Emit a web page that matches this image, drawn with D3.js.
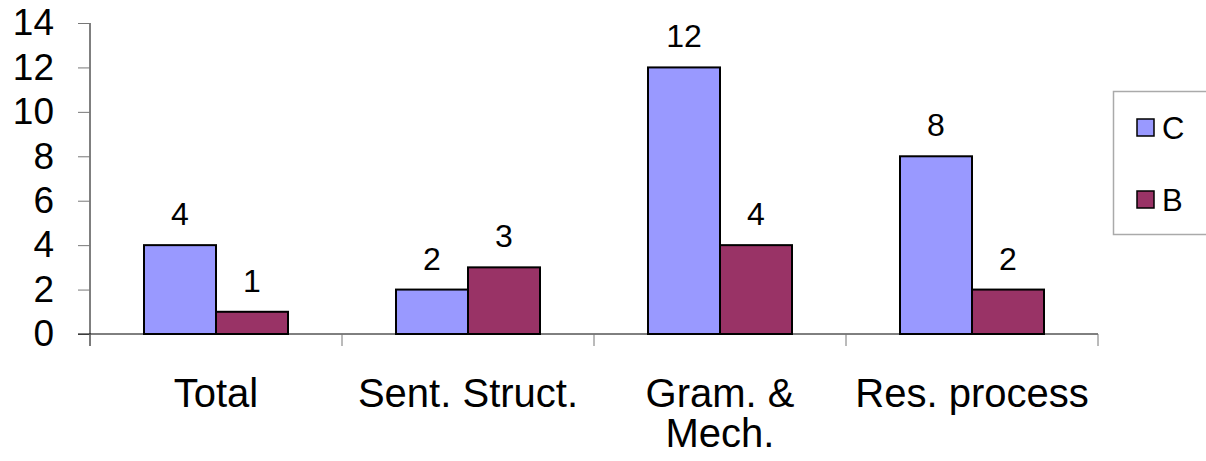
<!DOCTYPE html>
<html>
<head>
<meta charset="utf-8">
<script src="https://cdn.jsdelivr.net/npm/d3@7"></script>
<style>
  html, body { margin: 0; padding: 0; background: #fff; }
  svg { display: block; font-family: "Liberation Sans", Arial, sans-serif; }
</style>
</head>
<body>
<svg id="chart" width="1206" height="461"></svg>
<script>
// Category names (each entry is a list of label lines)
const categories = ["Total", "Sent. Struct.", "Gram. & Mech.", "Res. process"];
const categoryLines = [["Total"], ["Sent. Struct."], ["Gram. &", "Mech."], ["Res. process"]];
const seriesNames = ["C", "B"];
const valuesC = [4, 2, 12, 8];
const valuesB = [1, 3, 4, 2];
const yTicks = [0, 2, 4, 6, 8, 10, 12, 14];
const seriesColors = ["#9999FF", "#993366"];

const svg = d3.select("#chart");
const plotLeft = 90, plotRight = 1098, plotTop = 23, plotBottom = 334;

const x = d3.scaleBand().domain(categories).range([plotLeft, plotRight]).paddingInner(0).paddingOuter(0);
const bw = x.bandwidth();
const barW = bw / 3.5;               // gap width 150%
const x1 = d3.scaleBand().domain(seriesNames).range([barW * 0.75, bw - barW * 0.75]);
const y = d3.scaleLinear().domain([0, 14]).range([plotBottom, plotTop]);
const color = d3.scaleOrdinal().domain(seriesNames).range(seriesColors);

const rows = categories.map((c, i) => ({ cat: c, vals: [
  { s: "C", v: valuesC[i] }, { s: "B", v: valuesB[i] }
]}));

// Y axis
const yAxis = svg.append("g")
  .attr("transform", `translate(${plotLeft},0)`)
  .call(d3.axisLeft(y).tickValues(yTicks).tickSize(12).tickSizeOuter(0).tickPadding(24));
yAxis.select(".domain").attr("stroke", "#000").attr("d", `M0,${plotTop}V${plotBottom + 12}`);
yAxis.selectAll(".tick line").attr("stroke", "#777");
yAxis.selectAll(".tick text").attr("font-size", 37).attr("fill", "#000")
  .attr("font-family", "'Liberation Sans', Arial, sans-serif");

// Bars
const groups = svg.append("g").selectAll("g").data(rows).join("g")
  .attr("transform", d => `translate(${x(d.cat)},0)`);
groups.selectAll("rect").data(d => d.vals).join("rect")
  .attr("x", d => x1(d.s))
  .attr("y", d => y(d.v))
  .attr("width", x1.bandwidth())
  .attr("height", d => y(0) - y(d.v))
  .attr("fill", d => color(d.s))
  .attr("stroke", "#000")
  .attr("stroke-width", 2);
groups.selectAll("text").data(d => d.vals).join("text")
  .attr("x", d => x1(d.s) + x1.bandwidth() / 2)
  .attr("y", d => y(d.v) - 20)
  .attr("text-anchor", "middle")
  .attr("font-size", 32)
  .attr("fill", "#000")
  .text(d => d.v);

// X axis line and category boundary ticks
const xAxis = svg.append("g")
  .attr("transform", `translate(0,${plotBottom})`)
  .call(d3.axisBottom(x).tickSize(0).tickSizeOuter(0).tickFormat(""));
xAxis.select(".domain").attr("stroke", "#000").attr("d", `M${plotLeft - 12},0H${plotRight}`);
const bounds = categories.map(c => x(c)).concat([x(categories[categories.length - 1]) + bw]);
svg.append("g").selectAll("line").data(bounds).join("line")
  .attr("x1", d => d).attr("x2", d => d)
  .attr("y1", plotBottom).attr("y2", plotBottom + 12)
  .attr("stroke", "#777");

// Category labels
svg.append("g").selectAll("text").data(categories).join("text")
  .attr("x", (c) => x(c) + bw / 2)
  .attr("y", 407)
  .attr("text-anchor", "middle")
  .attr("font-size", 40)
  .attr("fill", "#000")
  .each(function(c, i) {
    d3.select(this).selectAll("tspan").data(categoryLines[i]).join("tspan")
      .attr("x", x(c) + bw / 2)
      .attr("dy", (d, j) => j === 0 ? 0 : 40)
      .text(d => d);
  });

// Legend
const legend = svg.append("g");
legend.append("rect")
  .attr("x", 1113.5).attr("y", 91.5).attr("width", 120).attr("height", 143)
  .attr("fill", "#fff").attr("stroke", "#aaa").attr("stroke-width", 1.5);
const items = legend.selectAll("g").data(seriesNames).join("g")
  .attr("transform", (d, i) => `translate(1137,${119 + i * 72})`);
items.append("rect")
  .attr("width", 17).attr("height", 17)
  .attr("fill", d => color(d)).attr("stroke", "#000").attr("stroke-width", 1.5);
items.append("text")
  .attr("x", 25).attr("y", 20)
  .attr("font-size", 31).attr("fill", "#000")
  .text(d => d);
</script>
</body>
</html>
